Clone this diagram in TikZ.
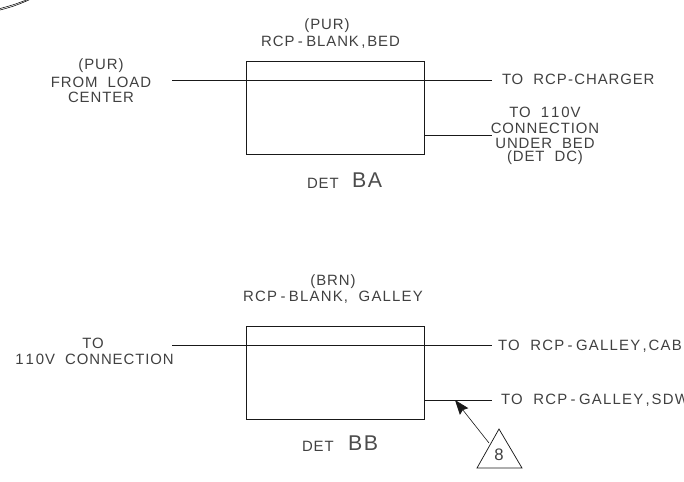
\documentclass[tikz,border=0pt]{standalone}
\usepackage{fontspec}
\setmainfont[LetterSpace=6,WordSpace=2]{Liberation Sans}
\newfontfamily\bigdet[LetterSpace=8]{Liberation Sans}
\newfontfamily\widecad[LetterSpace=8,WordSpace=2]{Liberation Sans}
\newcommand{\hy}{\kern2.6pt-\kern2.6pt}
\newcommand{\cma}{\kern1.8pt,\kern1.4pt}
\newcommand{\ooV}{1\kern1.5pt 1\kern1.5pt 0V}
\usetikzlibrary{arrows.meta}
\tikzset{
  cad/.style={inner sep=0pt,outer sep=0pt,text=black!75,font=\fontsize{11.2pt}{12pt}\selectfont},
  cadw/.style={inner sep=0pt,outer sep=0pt,text=black!75,font=\widecad\fontsize{11.2pt}{12pt}\selectfont},
  detbig/.style={inner sep=0pt,outer sep=0pt,text=black!70,font=\bigdet\fontsize{16pt}{18pt}\selectfont},
  wire/.style={line width=0.55pt,draw=black!90},
  boxs/.style={line width=0.55pt,draw=black!90,inner sep=0pt,outer sep=0pt,minimum width=133.5pt,minimum height=69.75pt},
  leader/.style={line width=0.45pt,draw=black!90,-{Stealth[length=11pt,width=8pt,inset=1.5pt]}}
}
\begin{document}
\begin{tikzpicture}[x=0.75pt,y=-0.75pt]
\useasboundingbox (0,0) rectangle (684,481);
\clip (0,0) rectangle (684,481);
% top-left fragment
\draw[line width=0.4pt] (0,10) .. controls (12,7) and (20,4) .. (31,-1);
\draw[line width=0.4pt] (0,8.5) .. controls (12,5.5) and (20,2.5) .. (29,-1);
% DET BA
\node[boxs] (ba) at (335,107.5) {};
\coordinate (bain) at (172,80);
\coordinate (baout) at (492,80);
\coordinate (basrc) at (424,135);
\coordinate (badst) at (492,135);
\draw[wire] (bain) -- (baout);
\draw[wire] (basrc) -- (badst);
\node[cad] (t1) at (327,26) {(PUR)};
\node[cad] (t2) at (330.5,42) {RCP\hy BLANK\cma BED};
\node[cad] (t3) at (101,66) {(PUR)};
\node[cad] (t4) at (101,82) {FROM LOAD};
\node[cad] (t5) at (101,97) {CENTER};
\node[cad,anchor=west] (t6) at (502,79) {TO RCP\kern1pt-\kern1pt CHARGER};
\node[cad] (t7) at (545,112) {TO \ooV};
\node[cad] (t8) at (545,128) {CONNECTION};
\node[cad] (t9) at (545,143) {UNDER BED};
\node[cad] (t10) at (545,158) {(DET DC)};
\node[cad,anchor=west] (t11) at (307,183) {DET};
\node[detbig,anchor=west] (t12) at (352,180) {BA};
% DET BB
\node[boxs] (bb) at (335,372.5) {};
\coordinate (bbin) at (172,345);
\coordinate (bbout) at (492,345);
\coordinate (bbsrc) at (424,400);
\coordinate (bbdst) at (492,400);
\coordinate (tip) at (455,400);
\draw[wire] (bbin) -- (bbout);
\draw[wire] (bbsrc) -- (bbdst);
\node[cad] (b1) at (333,282) {(BRN)};
\node[cadw] (b2) at (333,297) {RCP\hy BLANK, GALLEY};
\node[cad] (b3) at (93,343) {TO};
\node[cad] (b4) at (94.5,359) {\ooV\ CONNECTION};
\node[cadw,anchor=west] (b5) at (498,346) {TO RCP\hy GALLEY\cma CAB};
\node[cadw,anchor=west] (b6) at (501,400) {TO RCP\hy GALLEY\cma SDW};
\node[cad,anchor=west] (b7) at (302,446) {DET};
\node[detbig,anchor=west] (b8) at (348,443) {BB};
\coordinate (tria) at (499,429);
\coordinate (trib) at (477,468);
\coordinate (tric) at (522,468);
\coordinate (tail) at (489,443);
\draw[wire] (tria) -- (trib) -- (tric) -- cycle;
\node[cad,font=\fontsize{12.5pt}{14pt}\selectfont] (n8) at (499,455) {8};
\draw[leader] (tail) -- (tip);
\end{tikzpicture}
\end{document}
